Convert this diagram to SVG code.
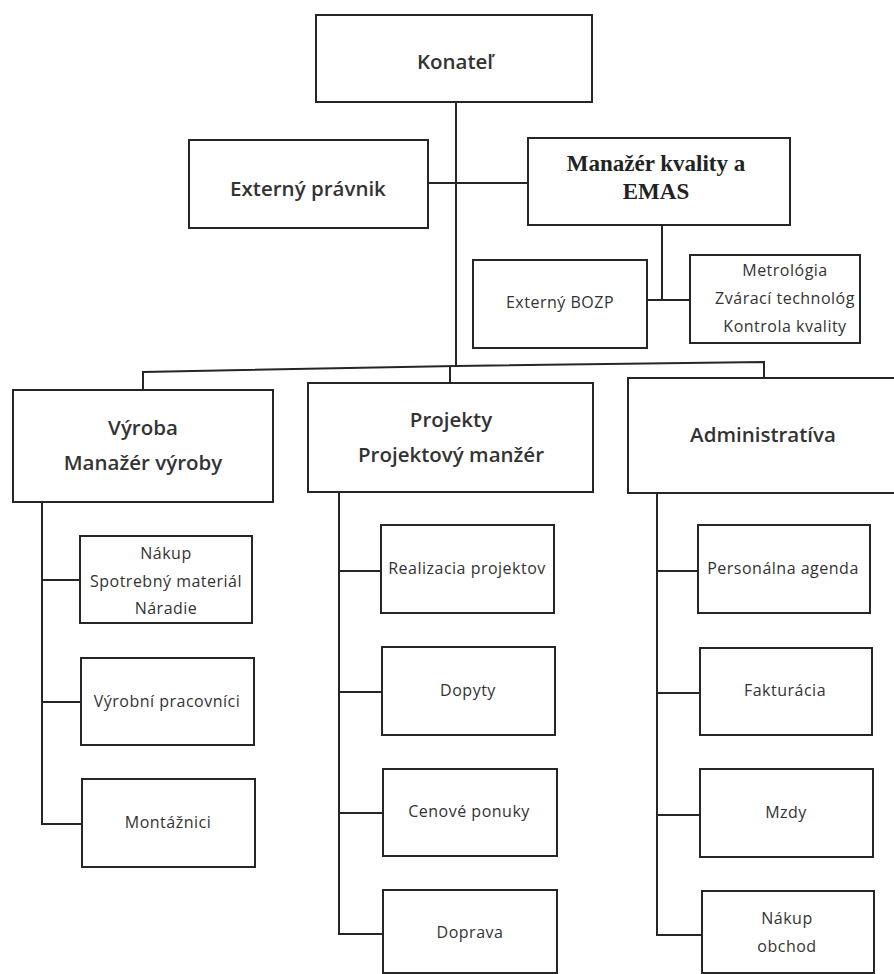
<svg xmlns="http://www.w3.org/2000/svg" width="894" height="974" viewBox="0 0 894 974">
<style>
  .box { fill: #ffffff; stroke: #262626; stroke-width: 2; }
  .con { fill: none; stroke: #262626; stroke-width: 2; }
  .h { font-family: "Open Sans", "Liberation Sans", sans-serif; font-weight: 600; font-size: 20.5px; fill: #333333; text-anchor: middle; dominant-baseline: central; }
  .s { font-family: "Open Sans", "Liberation Sans", sans-serif; font-weight: 400; font-size: 16px; letter-spacing: 0.5px; fill: #333333; text-anchor: middle; dominant-baseline: central; }
  .serif { font-family: "Liberation Serif", "Times New Roman", serif; font-weight: 700; font-size: 23px; fill: #222222; text-anchor: middle; dominant-baseline: central; }
</style>
<rect width="894" height="974" fill="#ffffff"/>

<g id="connectors">
  <line class="con" x1="456" y1="102" x2="456" y2="366"/>
  <line class="con" x1="428" y1="183" x2="528" y2="183"/>
  <line class="con" x1="662" y1="225" x2="662" y2="300"/>
  <line class="con" x1="647" y1="300" x2="690" y2="300"/>
  <polyline class="con" points="143,390 143,372 456,366 764,362 764,378"/>
  <line class="con" x1="450" y1="366" x2="450" y2="383"/>
  <polyline class="con" points="42,502 42,824 82,824"/>
  <line class="con" x1="42" y1="580" x2="80" y2="580"/>
  <line class="con" x1="42" y1="702" x2="81" y2="702"/>
  <polyline class="con" points="339,492 339,934 383,934"/>
  <line class="con" x1="339" y1="571" x2="381" y2="571"/>
  <line class="con" x1="339" y1="692" x2="382" y2="692"/>
  <line class="con" x1="339" y1="813" x2="383" y2="813"/>
  <polyline class="con" points="657,493 657,935 702,935"/>
  <line class="con" x1="657" y1="571" x2="698" y2="571"/>
  <line class="con" x1="657" y1="693" x2="700" y2="693"/>
  <line class="con" x1="657" y1="815" x2="700" y2="815"/>
</g>

<g id="konatel">
  <rect class="box" x="316" y="15" width="276" height="87"/>
  <text class="h" x="455" y="61">Konateľ</text>
</g>
<g id="externy-pravnik">
  <rect class="box" x="189" y="140" width="239" height="88"/>
  <text class="h" x="308" y="188">Externý právnik</text>
</g>
<g id="manazer-kvality">
  <rect class="box" x="528" y="138" width="262" height="87"/>
  <text class="serif" x="656" y="163">Manažér kvality a</text>
  <text class="serif" x="656" y="191">EMAS</text>
</g>
<g id="externy-bozp">
  <rect class="box" x="473" y="260" width="174" height="88"/>
  <text class="s" x="560" y="302">Externý BOZP</text>
</g>
<g id="metrologia">
  <rect class="box" x="690" y="255" width="170" height="88"/>
  <text class="s" x="785" y="270">Metrológia</text>
  <text class="s" x="785" y="298">Zvárací technológ</text>
  <text class="s" x="785" y="326">Kontrola kvality</text>
</g>

<g id="vyroba">
  <rect class="box" x="13" y="390" width="260" height="112"/>
  <text class="h" x="143" y="427">Výroba</text>
  <text class="h" x="143" y="462">Manažér výroby</text>
</g>
<g id="projekty">
  <rect class="box" x="308" y="383" width="285" height="109"/>
  <text class="h" x="451" y="419">Projekty</text>
  <text class="h" x="451" y="454">Projektový manžér</text>
</g>
<g id="administrativa">
  <rect class="box" x="628" y="378" width="272" height="115"/>
  <text class="h" x="763" y="434">Administratíva</text>
</g>

<g id="nakup-material">
  <rect class="box" x="80" y="536" width="172" height="87"/>
  <text class="s" x="166" y="553">Nákup</text>
  <text class="s" x="166" y="581">Spotrebný materiál</text>
  <text class="s" x="166" y="608">Náradie</text>
</g>
<g id="vyrobni-pracovnici">
  <rect class="box" x="81" y="658" width="173" height="87"/>
  <text class="s" x="167" y="701">Výrobní pracovníci</text>
</g>
<g id="montaznici">
  <rect class="box" x="82" y="779" width="173" height="88"/>
  <text class="s" x="168" y="822">Montážnici</text>
</g>

<g id="realizacia">
  <rect class="box" x="381" y="525" width="173" height="88"/>
  <text class="s" x="467" y="568">Realizacia projektov</text>
</g>
<g id="dopyty">
  <rect class="box" x="382" y="647" width="173" height="88"/>
  <text class="s" x="468" y="690">Dopyty</text>
</g>
<g id="cenove-ponuky">
  <rect class="box" x="383" y="769" width="174" height="87"/>
  <text class="s" x="469" y="811">Cenové ponuky</text>
</g>
<g id="doprava">
  <rect class="box" x="383" y="890" width="174" height="83"/>
  <text class="s" x="470" y="932">Doprava</text>
</g>

<g id="personalna-agenda">
  <rect class="box" x="698" y="525" width="172" height="88"/>
  <text class="s" x="783" y="568">Personálna agenda</text>
</g>
<g id="fakturacia">
  <rect class="box" x="700" y="648" width="172" height="87"/>
  <text class="s" x="785" y="690">Fakturácia</text>
</g>
<g id="mzdy">
  <rect class="box" x="700" y="769" width="173" height="88"/>
  <text class="s" x="786" y="812">Mzdy</text>
</g>
<g id="nakup-obchod">
  <rect class="box" x="702" y="891" width="172" height="82"/>
  <text class="s" x="787" y="918">Nákup</text>
  <text class="s" x="787" y="946">obchod</text>
</g>
</svg>
